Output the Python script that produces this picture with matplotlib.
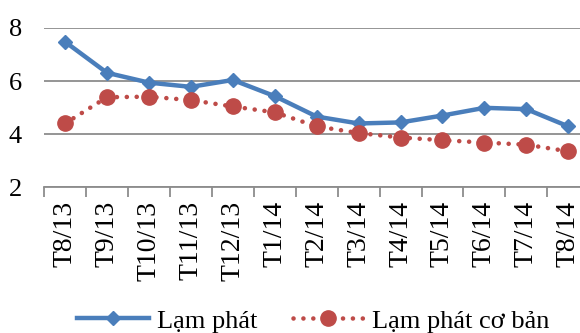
import matplotlib.pyplot as plt
import numpy as np

thang = ["T8/13", "T9/13", "T10/13", "T11/13", "T12/13", "T1/14", "T2/14",
         "T3/14", "T4/14", "T5/14", "T6/14", "T7/14", "T8/14"]
lam_phat = [7.48, 6.31, 5.94, 5.78, 6.04, 5.43, 4.66, 4.40, 4.44, 4.70, 4.99, 4.94, 4.29]
lam_phat_co_ban = [4.40, 5.39, 5.41, 5.28, 5.04, 4.82, 4.29, 4.04, 3.87, 3.77, 3.68, 3.60, 3.35]
yticks = [2, 4, 6, 8]

plt.rcParams["font.family"] = ["Liberation Serif", "DejaVu Serif"]

fig = plt.figure(figsize=(5.8, 3.33), dpi=100)
ax = fig.add_axes([0.076, 0.438, 0.94, 0.478])

x = np.arange(len(thang))
ax.plot(x, lam_phat, color="#4A7EBB", lw=3.2, marker="D", ms=7.5,
        solid_joinstyle="round", label="Lạm phát", zorder=3)
ax.plot(x, lam_phat_co_ban, color="#BE4B48", lw=3.3, linestyle=(0, (0.01, 2.15)),
        dash_capstyle="round", marker="o", ms=11, label="Lạm phát cơ bản", zorder=3)

ax.set_ylim(2, 8)
ax.set_xlim(-0.5, len(thang) - 0.5)
ax.set_yticks(yticks)
ax.set_yticklabels([str(v) for v in yticks], fontsize=19)
ax.yaxis.grid(True, color="#8C8C8C", lw=1.3)
ax.set_axisbelow(True)

ax.set_xticks(x)
ax.set_xticklabels(thang, rotation=90, fontsize=20, va="top")
ax.set_xticks(np.arange(len(thang) + 1) - 0.5, minor=True)
ax.tick_params(axis="x", which="major", length=0, pad=10)
ax.tick_params(axis="x", which="minor", length=7, color="#8C8C8C", width=1.3)
ax.tick_params(axis="y", length=0, pad=16)

for s in ["left", "right", "top"]:
    ax.spines[s].set_visible(False)
ax.spines["bottom"].set_color("#8C8C8C")
ax.spines["bottom"].set_linewidth(1.3)

fig.legend(loc="lower center", bbox_to_anchor=(0.54, -0.07), ncol=2, frameon=False,
           fontsize=19, handlelength=2.7, columnspacing=1.35, handletextpad=0.3)

fig.savefig("out.png", dpi=100)
